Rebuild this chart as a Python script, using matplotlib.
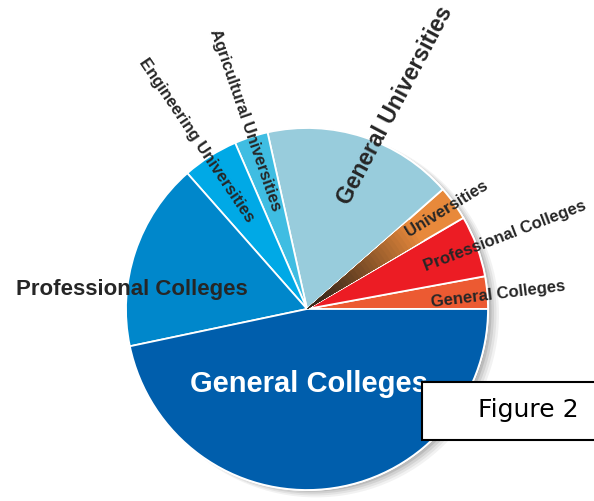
import numpy as np
import matplotlib.pyplot as plt
from matplotlib.patches import Circle, Wedge, Rectangle
from matplotlib.colors import to_rgb

# slices, counter-clockwise from 3 o'clock
labels = ['General Colleges', 'Professional Colleges', 'Universities',
          'General Universities', 'Agricultural Universities',
          'Engineering Universities', 'Professional Colleges', 'General Colleges']
shares = [2.9, 5.5, 3.1, 17.0, 3.0, 5.0, 16.8, 46.7]
colors = ['#ec5a32', '#ec1c24', '#e8893b', '#98ccdc', '#3fbde2',
          '#00a9e6', '#0087cb', '#005eac']

W, H = 594, 502
cx, cy, R = 307, 192, 181

fig = plt.figure(figsize=(W / 100, H / 100), dpi=100)
ax = fig.add_axes([0, 0, 1, 1])
ax.set_xlim(0, W)
ax.set_ylim(0, H)
ax.set_aspect('equal')
ax.axis('off')

# soft shadow behind the pie
for i, a in enumerate([0.05, 0.06, 0.08, 0.10, 0.12]):
    off = 9 - i * 1.5
    ax.add_patch(Circle((cx + off, cy - off * 0.6), R + 2 - i, color='black',
                        alpha=a, lw=0, zorder=1))
ax.add_patch(Circle((cx, cy), R + 1, color='white', lw=0, zorder=1.5))

wedges, _ = ax.pie(shares, colors=colors, startangle=0, counterclock=True,
                   center=(cx, cy), radius=R, frame=True,
                   wedgeprops=dict(edgecolor='white', linewidth=1.3))
for w in wedges:
    w.set_zorder(2)
ax.set_xlim(0, W)
ax.set_ylim(0, H)
ax.axis('off')

# dark gradient toward the centre on the small orange slice
uw = wedges[2]
t1, t2 = uw.theta1, uw.theta2
dark = np.array(to_rgb('#2e2218'))
orange = np.array(to_rgb('#e8893b'))
for r in np.linspace(R * 0.75, 8, 30):
    f = r / (R * 0.75)
    col = dark + (orange - dark) * f ** 1.3
    ax.add_patch(Wedge((cx, cy), r, t1 + 0.3, t2 - 0.3, color=col, lw=0, zorder=2.5))

dk = '#262626'
lab = dict(family='Liberation Sans', weight='bold', rotation_mode='anchor',
           ha='center', va='center', zorder=5)

ax.text(309, H - 384, 'General Colleges', color='white', fontsize=21, **lab)
ax.text(132, H - 290, 'Professional Colleges', color=dk, fontsize=16, **lab)
ax.text(395, H - 105, 'General Universities', color=dk, fontsize=16.5, rotation=62, **lab)
ax.text(196, H - 140, 'Engineering Universities', color=dk, fontsize=12, rotation=-56, **lab)
ax.text(245, H - 120, 'Agricultural Universities', color=dk, fontsize=12, rotation=-71, **lab)
ax.text(447, H - 209, 'Universities', color=dk, fontsize=12, rotation=31.5, **lab)
ax.text(505, H - 236, 'Professional Colleges', color=dk, fontsize=12, rotation=21, **lab)
ax.text(498, H - 294, 'General Colleges', color=dk, fontsize=12, rotation=7, **lab)

# caption box
ax.add_patch(Rectangle((422, H - 441), 180, 58, facecolor='white',
                       edgecolor='black', lw=1.5, zorder=6))
ax.text(528, H - 410, 'Figure 2', family='DejaVu Sans', fontsize=18,
        ha='center', va='center', color='black', zorder=7)

fig.savefig('out.png', dpi=100)
